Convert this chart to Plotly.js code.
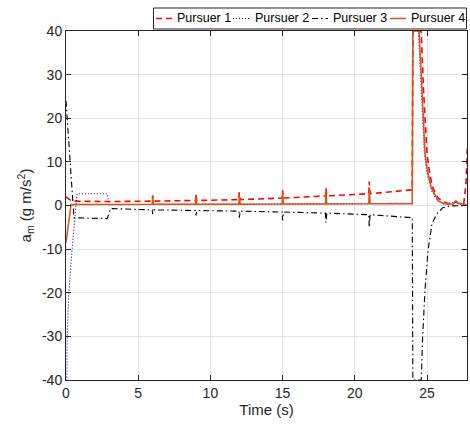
<!DOCTYPE html>
<html>
<head>
<meta charset="utf-8">
<script src="https://cdn.plot.ly/plotly-3.0.1.min.js"></script>
<style>html,body{margin:0;padding:0;background:#fff;}#chart{width:470px;height:427px;}</style>
</head>
<body>
<div id="chart"></div>
<script>
// Series names
var seriesNames = ["Pursuer 1", "Pursuer 2", "Pursuer 3", "Pursuer 4"];

// Pursuer 1 (time, acceleration)
var p1_t = [0, 0.4, 3, 5.97, 6.0, 6.06, 8.97, 9.0, 9.06, 11.97, 12.0, 12.06, 14.97, 15.0, 15.06, 17.97, 18.0, 18.06, 20.97, 21.0, 21.06, 23.98, 24.02, 24.6, 24.75, 24.9, 25.0, 25.2, 25.4, 25.7, 26.0, 26.5, 27.0, 27.3, 27.55, 27.7, 27.8];
var p1_v = [2, 1.0, 0.9, 1.0, 2.3, 1.0, 1.15, 2.8, 1.15, 1.35, 3.0, 1.35, 1.7, 3.5, 1.7, 2.2, 4.0, 2.2, 2.7, 5.5, 2.7, 3.6, 40, 40, 27, 17, 12, 7, 4.1, 2, 1.1, 0.4, 0.8, 0.3, 0.5, 5, 14];

// Pursuer 2
var p2_t = [0, 0.05, 0.08, 0.2, 0.43, 0.76, 2.85, 3.0, 6, 9, 12, 15, 18, 21, 23.98, 24.02, 24.4, 24.55, 24.7, 24.82, 25.0, 25.3, 25.7, 26.2, 27.0, 27.2, 27.77];
var p2_v = [-80, -40, -30, -20, -9.6, 2.7, 2.7, 0.2, 0.25, 0.3, 0.3, 0.35, 0.4, 0.45, 0.5, 40, 40, 30, 19, 12, 7.5, 3.5, 1.2, 0.3, 0.8, 0.3, 0];

// Pursuer 3
var p3_t = [0, 0.55, 2.85, 3.1, 5.97, 6.0, 6.06, 8.97, 9.0, 9.06, 11.97, 12.0, 12.06, 14.97, 15.0, 15.06, 17.97, 18.0, 18.06, 20.97, 21.0, 21.06, 23.98, 24.02, 24.6, 24.7, 24.86, 25.07, 25.35, 25.7, 26.1, 26.6, 27.77];
var p3_v = [24, -2.8, -3.0, -0.7, -1.0, -2.0, -1.0, -1.15, -2.3, -1.15, -1.3, -2.8, -1.3, -1.5, -3.4, -1.5, -1.75, -3.9, -1.75, -2.1, -5.0, -2.1, -2.8, -40, -40, -30, -19.5, -10.3, -4.1, -1.8, -0.5, -0.1, 0];

// Pursuer 4
var p4_t = [0, 0.35, 5.97, 6.0, 6.06, 8.97, 9.0, 9.06, 11.97, 12.0, 12.06, 14.97, 15.0, 15.06, 17.97, 18.0, 18.06, 20.97, 21.0, 21.06, 23.98, 24.02, 24.45, 24.6, 24.75, 24.86, 25.0, 25.3, 25.6, 25.8, 26.2, 26.8, 27.0, 27.15, 27.4, 27.77];
var p4_v = [-8.5, 0.25, 0.3, 2.0, 0.3, 0.3, 2.3, 0.3, 0.3, 2.4, 0.3, 0.35, 3.0, 0.35, 0.35, 3.2, 0.35, 0.4, 4.1, 0.4, 0.4, 40, 40, 31, 20, 12, 8.5, 4, 2, 1.0, 0.4, 0.3, 1.1, 0.5, 0.4, 0.1];

var xTicks = [0, 5, 10, 15, 20, 25];
var yTicks = [-40, -30, -20, -10, 0, 10, 20, 30, 40];

var FONT = "Liberation Sans, Arial, Helvetica, sans-serif";
var lineStyles = [
  {color: "#FF0000", width: 1.6, dash: "6px,4px"},
  {color: "#0000FF", width: 1.1, dash: "1px,2px"},
  {color: "#000000", width: 1.1, dash: "6px,3px,1.5px,3px"},
  {color: "#D95319", width: 1.5, dash: "solid"}
];

var traces = [
  {x: p1_t, y: p1_v, name: seriesNames[0], mode: "lines", line: lineStyles[0]},
  {x: p2_t, y: p2_v, name: seriesNames[1], mode: "lines", line: lineStyles[1]},
  {x: p3_t, y: p3_v, name: seriesNames[2], mode: "lines", line: lineStyles[2]},
  {x: p4_t, y: p4_v, name: seriesNames[3], mode: "lines", line: lineStyles[3]}
];

// ---- Compact MATLAB-style legend (layout, in pixels) ----
var W = 470, H = 427, ML = 66, MR = 3, MT = 31, MB = 47;
var PW = W - ML - MR, PH = H - MT - MB;
function px2x(px) { return (px - ML) / PW; }
function py2y(py) { return (H - MB - py) / PH; }
var legBox = {x0: 153.5, x1: 466.5, y0: 8, y1: 29};
var legLineX = [[156, 172], [233, 250], [312, 328], [390, 406]];
var legTextX = [175, 252.5, 330.5, 409];
var legY = 18.5;

var shapes = [{
  type: "rect", xref: "paper", yref: "paper",
  x0: px2x(legBox.x0), x1: px2x(legBox.x1), y0: py2y(legBox.y1), y1: py2y(legBox.y0),
  line: {color: "#262626", width: 1}, fillcolor: "#FFFFFF", layer: "above"
}];
var annotations = [];
for (var i = 0; i < seriesNames.length; i++) {
  shapes.push({
    type: "line", xref: "paper", yref: "paper",
    x0: px2x(legLineX[i][0]), x1: px2x(legLineX[i][1]), y0: py2y(legY), y1: py2y(legY),
    line: lineStyles[i], layer: "above"
  });
  annotations.push({
    xref: "paper", yref: "paper", x: px2x(legTextX[i]), y: py2y(legY),
    xanchor: "left", yanchor: "middle", showarrow: false,
    text: seriesNames[i], font: {family: FONT, size: 12.5, color: "#000000"}
  });
}

var axisCommon = {
  showline: true, linecolor: "#262626", linewidth: 1,
  mirror: "allticks", ticks: "inside", ticklen: 5, tickcolor: "#262626", tickwidth: 1,
  showgrid: true, gridcolor: "#E3E3E3", gridwidth: 1, zeroline: false,
  tickfont: {family: FONT, size: 14, color: "#262626"}
};

var layout = {
  width: W, height: H,
  margin: {l: ML, r: MR, t: MT, b: MB},
  paper_bgcolor: "#FFFFFF", plot_bgcolor: "#FFFFFF",
  showlegend: false,
  shapes: shapes,
  annotations: annotations,
  xaxis: Object.assign({}, axisCommon, {
    range: [0, 27.77], tickvals: xTicks, ticktext: xTicks.map(String),
    title: {text: "Time (s)", font: {family: FONT, size: 15, color: "#262626"}, standoff: 4}
  }),
  yaxis: Object.assign({}, axisCommon, {
    range: [-40, 40], tickvals: yTicks, ticktext: yTicks.map(String),
    title: {text: "a<sub>m</sub> (g m/s<sup>2</sup>)", font: {family: FONT, size: 15, color: "#262626"}, standoff: 6}
  })
};

Plotly.newPlot("chart", traces, layout, {displayModeBar: false, staticPlot: true});
</script>
</body>
</html>
